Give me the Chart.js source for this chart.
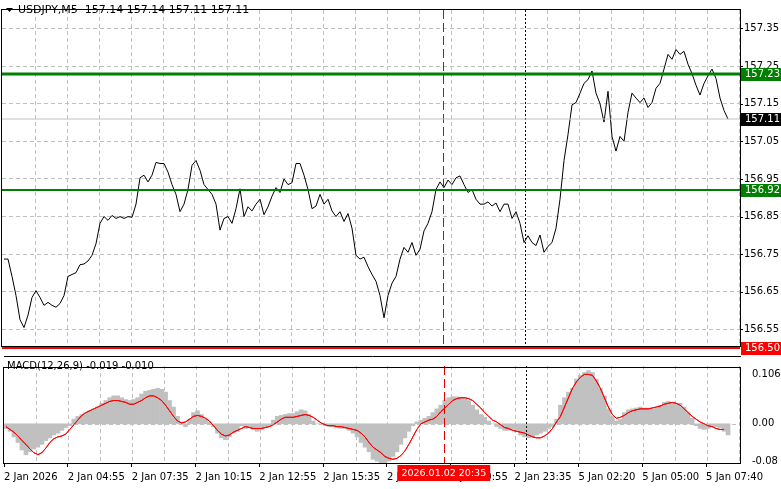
<!DOCTYPE html>
<html><head><meta charset="utf-8">
<script src="https://cdn.jsdelivr.net/npm/chart.js@4"></script>
<style>
html,body{margin:0;padding:0;background:#fff;width:781px;height:489px;overflow:hidden}
canvas{position:absolute;left:0}
#c1{top:0}#c2{top:356px}
</style></head><body>
<canvas id="c1" width="781" height="356"></canvas>
<canvas id="c2" width="781" height="133"></canvas>
<script>
// close prices, one sample every 2 bars (M5)
const closePrices=[156.737,156.737,156.691,156.640,156.576,156.555,156.588,156.635,156.653,156.635,156.614,156.622,156.614,156.609,156.619,156.640,156.691,156.696,156.701,156.722,156.724,156.732,156.747,156.778,156.832,156.850,156.840,156.853,156.845,156.850,156.845,156.850,156.848,156.883,156.953,156.960,156.942,156.960,156.994,156.991,156.991,156.968,156.935,156.909,156.863,156.883,156.922,156.986,156.999,156.973,156.935,156.922,156.909,156.883,156.814,156.845,156.850,156.832,156.871,156.924,156.850,156.876,156.865,156.883,156.896,156.855,156.876,156.904,156.927,156.914,156.950,156.935,156.940,156.991,156.991,156.960,156.922,156.871,156.878,156.909,156.883,156.896,156.865,156.850,156.863,156.837,156.858,156.819,156.747,156.737,156.742,156.717,156.696,156.678,156.640,156.581,156.640,156.673,156.691,156.737,156.768,156.755,156.781,156.747,156.763,156.812,156.832,156.863,156.922,156.942,156.927,156.947,156.935,156.953,156.958,156.935,156.914,156.922,156.896,156.883,156.883,156.889,156.878,156.886,156.863,156.883,156.883,156.845,156.863,156.832,156.781,156.799,156.781,156.773,156.801,156.755,156.771,156.781,156.819,156.896,156.999,157.068,157.147,157.153,157.178,157.204,157.214,157.237,157.178,157.150,157.101,157.183,157.063,157.024,157.063,157.050,157.127,157.178,157.165,157.153,157.165,157.140,157.153,157.191,157.204,157.242,157.281,157.268,157.294,157.281,157.289,157.255,157.230,157.199,157.173,157.204,157.224,157.242,157.217,157.165,157.132,157.109];
// MACD histogram and signal, in thousandths
const macdHist=[-10,-16,-28,-40,-56,-66,-60,-54,-50,-44,-36,-30,-24,-20,-14,-8,-4,10,16,20,24,28,32,36,44,50,56,60,60,56,52,50,52,56,64,70,72,74,76,74,68,50,36,16,4,-6,10,24,28,20,10,4,-6,-20,-30,-34,-28,-20,-16,-4,-10,-8,-12,-16,-12,-8,-4,8,16,18,20,22,22,26,30,28,20,6,0,-2,-4,-6,-6,-8,-10,-10,-14,-20,-28,-40,-50,-60,-76,-80,-84,-88,-80,-70,-60,-44,-30,-16,-4,4,8,12,16,24,32,40,50,56,58,58,56,54,50,40,30,20,14,6,0,-6,-10,-14,-14,-12,-16,-24,-28,-30,-28,-24,-20,-16,-10,-6,10,40,56,68,76,96,104,110,114,110,96,76,60,32,16,6,10,24,30,32,34,36,34,34,32,34,40,46,48,46,44,44,36,24,12,-4,-10,-12,-10,-6,-6,-8,-16,-24];
const macdSignal=[-6,-12,-18,-26,-36,-44,-54,-62,-66,-62,-52,-40,-32,-28,-26,-22,-12,-2,8,18,24,28,32,36,40,44,48,50,50,48,46,42,42,46,50,56,60,60,56,50,40,28,16,6,2,4,10,16,18,16,12,6,-4,-14,-22,-26,-24,-18,-14,-10,-6,-8,-10,-10,-10,-8,-6,-2,4,10,14,14,14,16,18,20,18,14,8,2,-2,-4,-4,-6,-6,-8,-10,-12,-14,-20,-28,-40,-50,-56,-62,-70,-74,-76,-74,-68,-58,-44,-28,-12,0,4,8,10,16,26,34,42,50,54,56,56,54,50,42,34,24,16,8,4,-2,-8,-10,-14,-16,-18,-20,-24,-28,-30,-30,-26,-20,-10,4,16,36,56,76,90,100,106,106,104,92,76,56,36,20,12,14,18,24,28,30,32,32,32,34,36,38,42,44,46,44,40,32,24,16,10,4,0,-4,-6,-10,-12,-12];
const tickLabels=["2 Jan 2026","2 Jan 04:55","2 Jan 07:35","2 Jan 10:15","2 Jan 12:55","2 Jan 15:35","2 Jan 18:15","2 Jan 20:55","2 Jan 23:35","5 Jan 02:20","5 Jan 05:00","5 Jan 07:40"];
const priceTicks=[156.55,156.65,156.75,156.85,156.95,157.05,157.15,157.25,157.35];
const levels=[{v:157.23,c:'#008000',w:3,t:'157.23'},{v:156.92,c:'#008000',w:2,t:'156.92'},{v:157.11,c:'#c0c0c0',w:1,t:'157.11',bg:'#000'},{v:156.50,c:'#ff0000',w:2,t:'156.50'}];
const vLineRed=220.5, vLineDot=261.5, XMAX=369;

const pts=closePrices.map((v,i)=>({x:i*2+1,y:v}));
const hPts=macdHist.map((v,i)=>({x:i*2+1,y:v/1000}));
const sPts=macdSignal.map((v,i)=>({x:i*2+1,y:v/1000}));
const F='Tahoma, "DejaVu Sans", sans-serif';
const gridX={type:'linear',min:0,max:XMAX,display:true,offset:false,
  afterBuildTicks:s=>{s.ticks=[];for(let v=16.5;v<=XMAX;v+=16)s.ticks.push({value:v});},
  ticks:{display:false},border:{display:false,dash:[4,3]},
  grid:{color:'#c0c0c0',lineWidth:1,drawTicks:false,offset:false}};
function vlines(ch){
  const c=ch.ctx,a=ch.chartArea,x=ch.scales.x;
  c.save();
  let px=Math.round(x.getPixelForValue(vLineRed))+.5;
  c.strokeStyle='#e00000';c.lineWidth=1;c.setLineDash([9,4]);
  c.beginPath();c.moveTo(px,a.top);c.lineTo(px,a.bottom);c.stroke();
  px=Math.round(x.getPixelForValue(vLineDot))+.5;
  c.strokeStyle='#000';c.setLineDash([2,2]);
  c.beginPath();c.moveTo(px,a.top);c.lineTo(px,a.bottom);c.stroke();
  c.restore();
}
Chart.defaults.animation=false;
Chart.defaults.font.family=F;Chart.defaults.font.size=10;Chart.defaults.color='#000';

new Chart(document.getElementById('c1'),{
  type:'line',
  data:{datasets:[{data:pts,borderColor:'#000',borderWidth:1,pointRadius:0,tension:0}]},
  options:{responsive:false,maintainAspectRatio:false,
    layout:{autoPadding:false,padding:{left:2,top:4,bottom:4,right:0}},
    plugins:{legend:{display:false},tooltip:{enabled:false}},
    scales:{x:gridX,
      y:{position:'right',min:156.506,max:157.399,
        afterBuildTicks:s=>{s.ticks=priceTicks.map(v=>({value:v}));},
        afterFit:s=>{s.width=41;},
        ticks:{padding:4,callback:v=>v.toFixed(2),font:{size:10}},
        border:{display:false,dash:[4,3]},
        grid:{color:'#c0c0c0',drawTicks:false}}}},
  plugins:[{id:'p1',
    afterDatasetsDraw(ch){
      const c=ch.ctx,a=ch.chartArea,y=ch.scales.y;
      vlines(ch);
      c.save();
      levels.forEach(L=>{const py=Math.round(y.getPixelForValue(L.v));
        c.strokeStyle=L.c;c.lineWidth=L.w;c.beginPath();c.moveTo(a.left,py);c.lineTo(a.right,py);c.stroke();});
      c.restore();
    },
    afterDraw(ch){
      const c=ch.ctx,a=ch.chartArea,y=ch.scales.y;
      c.save();
      c.strokeStyle='#000';c.lineWidth=1;
      c.strokeRect(a.left-0.5,a.top-0.5,a.right-a.left+1,a.bottom-a.top+1);
      c.beginPath();
      priceTicks.forEach(v=>{const py=Math.round(y.getPixelForValue(v))+.5;c.moveTo(a.right,py);c.lineTo(a.right+3,py);});
      c.stroke();
      c.font='10px '+F;c.textBaseline='middle';
      levels.forEach(L=>{const py=Math.round(y.getPixelForValue(L.v));
        c.fillStyle=L.bg||L.c;c.fillRect(a.right+1,py-6,40,13);
        c.fillStyle='#fff';c.fillText(L.t,a.right+5,py+0.5);});
      c.fillStyle='#000';c.font='11px '+F;c.textBaseline='middle';
      c.beginPath();c.moveTo(6,8);c.lineTo(13,8);c.lineTo(9.5,12);c.closePath();c.fill();
      c.fillText('USDJPY,M5  157.14 157.14 157.11 157.11',18,10);
      c.restore();
    }}]
});

new Chart(document.getElementById('c2'),{
  type:'bar',
  data:{datasets:[
    {type:'line',data:sPts,borderColor:'#ff0000',borderWidth:1,pointRadius:0,tension:0,order:0},
    {type:'bar',data:hPts,backgroundColor:'#c0c0c0',barPercentage:1,categoryPercentage:1,grouped:false,order:1}]},
  options:{responsive:false,maintainAspectRatio:false,
    layout:{autoPadding:false,padding:{left:2,top:1,bottom:0,right:0}},
    plugins:{legend:{display:false},tooltip:{enabled:false}},
    scales:{x:Object.assign({},gridX,{afterFit:s=>{s.height=0;}}),
      x2:{type:'linear',position:'bottom',min:0,max:XMAX,offset:false,
        afterBuildTicks:s=>{s.ticks=tickLabels.map((t,i)=>({value:i*32}));},
        afterFit:s=>{s.height=26;},
        ticks:{maxRotation:0,autoSkip:false,align:'start',padding:4,callback:(v)=>tickLabels[Math.round(v/32)]},
        border:{display:false},
        grid:{drawOnChartArea:false,tickLength:4,tickColor:'#000',offset:false}},
      y:{position:'right',min:-0.084,max:0.124,
        afterBuildTicks:s=>{s.ticks=[{value:-0.08},{value:0},{value:0.106}];},
        afterFit:s=>{s.width=41;},
        ticks:{padding:4,callback:v=>v===0?'0.00':(v===0.106?'0.106':'-0.08')},
        border:{display:false},grid:{display:false}}}},
  plugins:[{id:'p2',
    afterDatasetsDraw(ch){
      const c=ch.ctx,a=ch.chartArea,y=ch.scales.y;
      c.save();const py=Math.round(y.getPixelForValue(0))+.5;
      c.strokeStyle='#c0c0c0';c.setLineDash([4,3]);c.beginPath();c.moveTo(a.left,py);c.lineTo(a.right,py);c.stroke();
      c.restore();
      ch.getDatasetMeta(0).controller.draw();
      vlines(ch);
    },
    afterDraw(ch){
      const c=ch.ctx,a=ch.chartArea,x=ch.scales.x;
      c.save();c.strokeStyle='#000';c.lineWidth=1;
      c.strokeRect(a.left-0.5,a.top-0.5+2,a.right-a.left+1,a.bottom-a.top-1);
      c.beginPath();c.moveTo(a.left,0.5);c.lineTo(a.right+1,0.5);c.stroke();
      c.font='10px '+F;c.fillStyle='#000';c.textBaseline='middle';
      c.fillText('MACD(12,26,9) -0.019 -0.010',7,10);
      const px=x.getPixelForValue(vLineRed);
      c.font='9.5px '+F;
      const tw=c.measureText('2026.01.02 20:35').width+8;
      c.fillStyle='#ff0000';c.fillRect(px-tw/2,a.bottom+2,tw,16);
      c.fillStyle='#fff';c.textAlign='center';c.fillText('2026.01.02 20:35',px,a.bottom+10.5);
      c.restore();
    }}]
});
</script></body></html>
